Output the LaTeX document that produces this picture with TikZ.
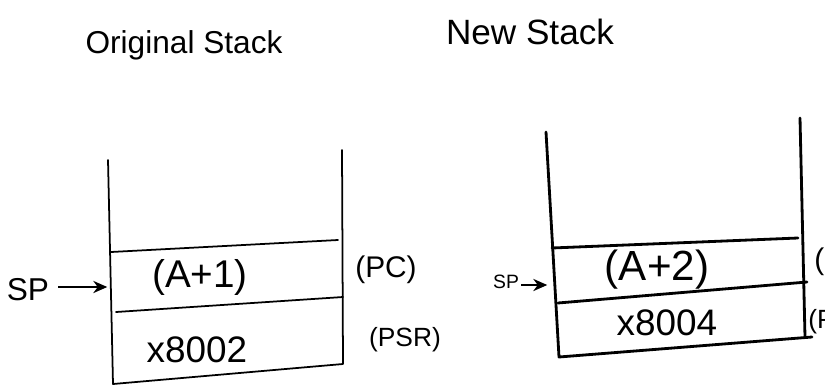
\documentclass[tikz,border=0pt]{standalone}
\usepackage{fontspec}
\setmainfont{Liberation Sans}
\usetikzlibrary{arrows.meta}
\begin{document}
\begin{tikzpicture}[x=0.02cm,y=-0.02cm,
  wall/.style={line width=1pt, line cap=round, line join=round},
  nwall/.style={line width=1.6pt, line cap=round, line join=round},
  lbl/.style={inner sep=0pt, font=\fontsize{#1}{#1}\selectfont},
  ptr/.style={-{Stealth[length=8pt,width=7pt]}, line width=0.8pt, shorten >=1pt}]
\useasboundingbox (0,0) rectangle (825,386);
\clip (0,0) rectangle (825,386);
% titles
\node[lbl=18] (t1) at (184,45) {Original Stack};
\node[lbl=20] (t2) at (530,32) {New Stack};
% original stack
\coordinate (otl) at (108,160);
\coordinate (obl) at (113,384);
\coordinate (otr) at (342,150);
\coordinate (obr) at (343,364);
\coordinate (oa1) at (111,252);
\coordinate (oa2) at (338,240);
\coordinate (ob1) at (116,312);
\coordinate (ob2) at (343,297);
\draw[wall] (otl) -- (obl) -- (obr) -- (otr);
\draw[wall] (oa1) -- (oa2);
\draw[wall] (ob1) -- (ob2);
\node[lbl=22] (opc) at (200,277) {(A+1)};
\node[lbl=21] (opsr) at (197,350) {x8002};
\node[lbl=17] (olpc) at (386,270) {(PC)};
\node[lbl=15] (olpsr) at (405,340) {(PSR)};
\node[lbl=18] (osp) at (28,290) {SP};
\coordinate (ohit) at (109,287);
\coordinate (ostart) at (58,287);
\draw[ptr] (ostart) -- (ohit);
% new stack
\coordinate (ntl) at (546,132);
\coordinate (nbl) at (559,357);
\coordinate (ntr) at (800,118);
\coordinate (nbr) at (805,337);
\coordinate (nbe) at (812,337);
\coordinate (na1) at (552,248);
\coordinate (na2) at (798,238);
\coordinate (nb1) at (558,303);
\coordinate (nb2) at (807,282);
\draw[nwall] (ntl) -- (nbl) -- (nbe);
\draw[nwall] (ntr) -- (nbr);
\draw[nwall] (na1) -- (na2);
\draw[nwall] (nb1) -- (nb2);
\node[lbl=24] (npc) at (657,270) {(A+2)};
\node[lbl=21] (npsr) at (667,323) {x8004};
\node[lbl=17,anchor=west] (nlpc) at (814,262) {(PC)};
\node[lbl=15,anchor=west] (nlpsr) at (808,322) {(PSR)};
\node[lbl=11] (nsp) at (506,282) {SP};
\coordinate (nhit) at (549,285);
\coordinate (nstart) at (521,285);
\draw[ptr] (nstart) -- (nhit);
\end{tikzpicture}
\end{document}
